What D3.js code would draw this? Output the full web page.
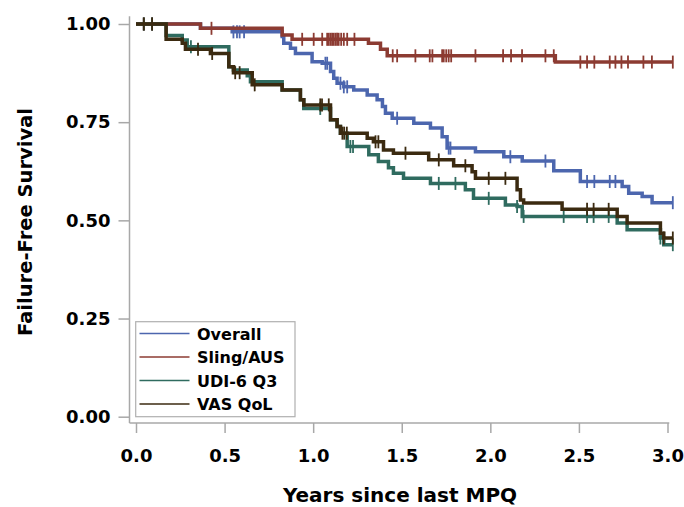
<!DOCTYPE html>
<html>
<head>
<meta charset="utf-8">
<script src="https://cdn.jsdelivr.net/npm/d3@7"></script>
<style>
  body { margin: 0; background: #fff; }
  text { font-family: "DejaVu Sans", Verdana, sans-serif; font-weight: bold; }
</style>
</head>
<body>
<div id="chart"></div>
<script>
// Kaplan-Meier step data
const seriesNames = ["Overall", "Sling/AUS", "UDI-6 Q3", "VAS QoL"];
const endTime = 3.03;

const overallT = [0, 0.364, 0.543, 0.825, 0.834, 0.872, 0.900, 0.994, 1.051, 1.098, 1.116, 1.135, 1.173, 1.229, 1.305, 1.361, 1.391, 1.408, 1.446, 1.568, 1.662, 1.728, 1.756, 1.916, 2.076, 2.180, 2.358, 2.508, 2.744, 2.781, 2.857, 2.913];
const overallS = [1.0, 0.989, 0.980, 0.968, 0.951, 0.938, 0.925, 0.904, 0.900, 0.879, 0.862, 0.849, 0.840, 0.832, 0.819, 0.807, 0.790, 0.773, 0.760, 0.747, 0.735, 0.713, 0.684, 0.675, 0.662, 0.651, 0.626, 0.599, 0.586, 0.569, 0.561, 0.545];
const overallC = [0.044, 0.091, 0.55, 0.57, 0.585, 0.61, 1.069, 1.079, 1.154, 1.173, 1.192, 1.474, 1.765, 1.775, 2.113, 2.311, 2.546, 2.587, 2.674, 2.706, 3.03];

const slingT = [0, 0.364, 0.825, 0.881, 1.312, 1.380, 1.418, 2.367];
const slingS = [1.0, 0.989, 0.972, 0.961, 0.951, 0.936, 0.919, 0.903];
const slingC = [0.044, 0.091, 0.426, 0.938, 1.003, 1.051, 1.079, 1.088, 1.098, 1.107, 1.116, 1.126, 1.135, 1.144, 1.158, 1.173, 1.192, 1.233, 1.449, 1.474, 1.577, 1.658, 1.673, 1.728, 1.737, 1.751, 1.765, 1.779, 1.916, 2.072, 2.117, 2.179, 2.311, 2.358, 2.508, 2.546, 2.587, 2.674, 2.706, 2.740, 2.777, 2.864, 2.912, 3.03];

const udiT = [0, 0.170, 0.261, 0.289, 0.524, 0.550, 0.628, 0.646, 0.825, 0.928, 0.947, 1.098, 1.135, 1.154, 1.192, 1.314, 1.368, 1.425, 1.453, 1.510, 1.662, 1.859, 1.905, 2.085, 2.151, 2.180, 2.716, 2.772, 2.960, 2.979];
const udiS = [1.0, 0.971, 0.959, 0.942, 0.891, 0.883, 0.868, 0.853, 0.832, 0.807, 0.785, 0.756, 0.739, 0.722, 0.688, 0.667, 0.650, 0.634, 0.620, 0.607, 0.594, 0.578, 0.556, 0.539, 0.535, 0.510, 0.493, 0.476, 0.455, 0.438];
const udiC = [0.044, 0.091, 0.31, 1.04, 1.21, 1.225, 1.709, 1.803, 1.991, 2.151, 2.188, 2.414, 2.546, 2.583, 2.668, 2.96, 3.03];

const vasT = [0, 0.170, 0.261, 0.279, 0.420, 0.524, 0.550, 0.656, 0.825, 0.928, 0.947, 1.098, 1.135, 1.154, 1.305, 1.340, 1.397, 1.453, 1.652, 1.793, 1.897, 1.916, 2.151, 2.170, 2.188, 2.405, 2.716, 2.772, 2.960, 2.979];
const vasS = [1.0, 0.961, 0.951, 0.936, 0.925, 0.891, 0.876, 0.845, 0.832, 0.807, 0.794, 0.756, 0.739, 0.722, 0.709, 0.700, 0.679, 0.671, 0.654, 0.639, 0.624, 0.607, 0.578, 0.552, 0.544, 0.528, 0.510, 0.493, 0.467, 0.455];
const vasC = [0.044, 0.091, 0.35, 0.43, 0.56, 0.585, 0.67, 1.04, 1.05, 1.088, 1.165, 1.175, 1.19, 1.352, 1.368, 1.521, 1.709, 1.859, 1.991, 2.085, 2.546, 2.583, 2.668, 2.979, 3.03];

const xTicks = [0, 0.5, 1.0, 1.5, 2.0, 2.5, 3.0];
const yTicks = [0, 0.25, 0.5, 0.75, 1.0];

const colors = ["#4c66ae", "#8c3b32", "#2f6b5f", "#3b2a10"];

const series = [
  { name: seriesNames[0], t: overallT, s: overallS, c: overallC },
  { name: seriesNames[1], t: slingT, s: slingS, c: slingC },
  { name: seriesNames[2], t: udiT, s: udiS, c: udiC },
  { name: seriesNames[3], t: vasT, s: vasS, c: vasC }
];

const width = 684, height = 507;

const svg = d3.select("#chart").append("svg")
  .attr("width", width)
  .attr("height", height);

const x = d3.scaleLinear().domain([0, 3]).range([136, 667.5]);
const y = d3.scaleLinear().domain([0, 1]).range([416.7, 24]);

const axisColor = "#a8a8a8";

// y axis
const gy = svg.append("g")
  .attr("transform", "translate(129.5,0)")
  .call(d3.axisLeft(y).tickValues(yTicks).tickSize(11).tickPadding(8).tickFormat(d3.format(".2f")));
gy.select(".domain").remove();
gy.append("line")
  .attr("y1", y(1.02)).attr("y2", 423)
  .attr("stroke", axisColor).attr("stroke-width", 1.5);

// x axis
const gx = svg.append("g")
  .attr("transform", "translate(0,423)")
  .call(d3.axisBottom(x).tickValues(xTicks).tickSize(10).tickPadding(16).tickFormat(d3.format(".1f")));
gx.select(".domain").remove();
gx.append("line")
  .attr("x1", 129.5).attr("x2", x(3.01))
  .attr("stroke", axisColor).attr("stroke-width", 1.5);

svg.selectAll(".tick line").attr("stroke", axisColor).attr("stroke-width", 1.5);
svg.selectAll(".tick text").attr("fill", "#000").style("font-size", "18px")
  .style("font-family", "'DejaVu Sans', sans-serif").style("font-weight", "bold");

// axis titles
svg.append("text")
  .attr("x", 400).attr("y", 502)
  .attr("text-anchor", "middle")
  .style("font-size", "20px")
  .text("Years since last MPQ");

svg.append("text")
  .attr("transform", "translate(32,222) rotate(-90)")
  .attr("text-anchor", "middle")
  .style("font-size", "19.5px")
  .text("Failure-Free Survival");

// curves
const line = d3.line()
  .x(d => x(d[0]))
  .y(d => y(d[1]))
  .curve(d3.curveStepAfter);

function survAt(sr, tt) {
  const i = d3.bisectRight(sr.t, tt) - 1;
  return sr.s[Math.max(0, i)];
}

series.forEach((sr, k) => {
  const pts = sr.t.map((t, i) => [t, sr.s[i]]);
  pts.push([endTime, sr.s[sr.s.length - 1]]);
  const g = svg.append("g");
  g.append("path")
    .attr("d", line(pts))
    .attr("fill", "none")
    .attr("stroke", colors[k])
    .attr("stroke-width", 3.5);
  g.selectAll("line.cens")
    .data(sr.c)
    .enter().append("line")
    .attr("class", "cens")
    .attr("x1", d => x(d)).attr("x2", d => x(d))
    .attr("y1", d => y(survAt(sr, d)) - 6.5)
    .attr("y2", d => y(survAt(sr, d)) + 6.5)
    .attr("stroke", colors[k])
    .attr("stroke-width", 1.8);
});

// legend
const legend = svg.append("g");
legend.append("rect")
  .attr("x", 135.7).attr("y", 321.7)
  .attr("width", 159.3).attr("height", 95)
  .attr("fill", "#fff")
  .attr("stroke", "#b0b0b0")
  .attr("stroke-width", 1.2);

seriesNames.forEach((name, i) => {
  const cy = 333.5 + i * 23.5;
  legend.append("line")
    .attr("x1", 139.5).attr("x2", 189.5)
    .attr("y1", cy).attr("y2", cy)
    .attr("stroke", colors[i])
    .attr("stroke-width", 1.6);
  legend.append("text")
    .attr("x", 197).attr("y", cy + 6)
    .style("font-size", "16px")
    .attr("fill", "#000")
    .text(name);
});
</script>
</body>
</html>
